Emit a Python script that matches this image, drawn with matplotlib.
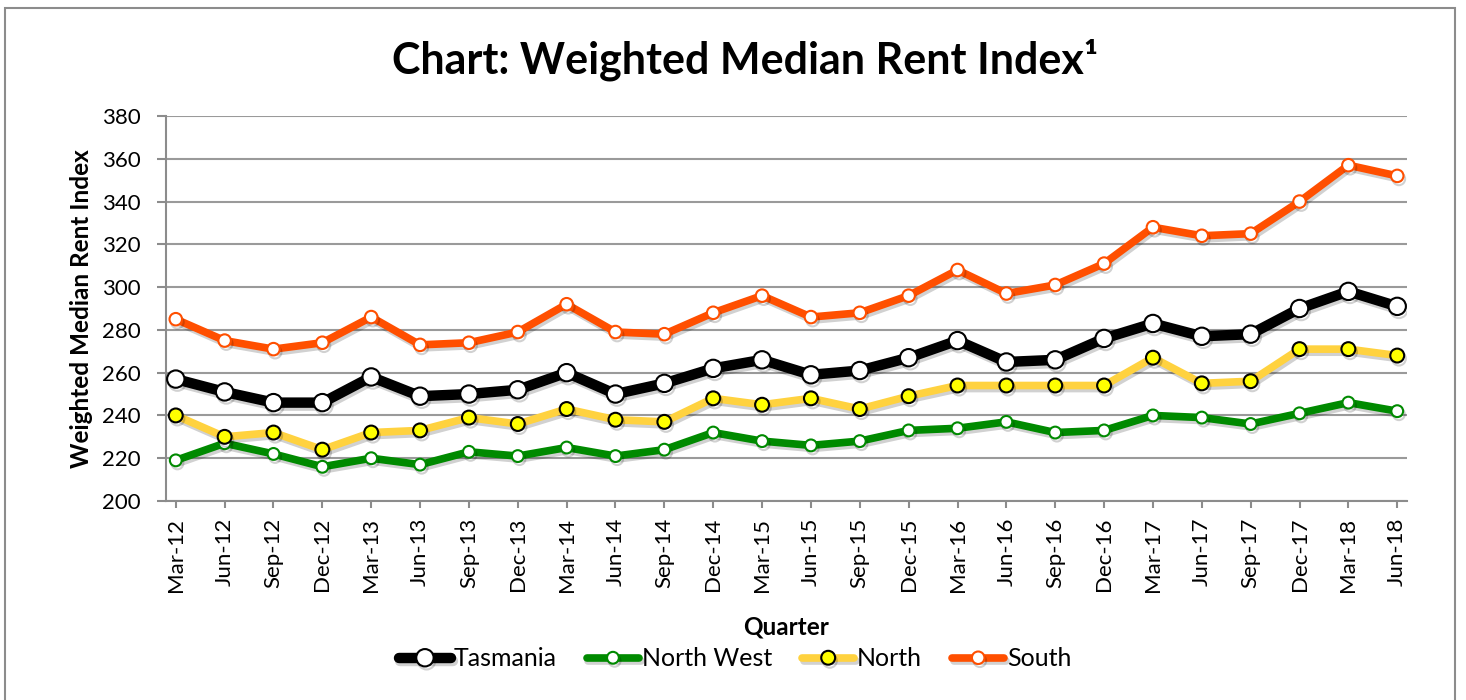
import matplotlib
matplotlib.use('Agg')
import matplotlib.pyplot as plt
import matplotlib.patheffects as pe
from matplotlib.patches import Rectangle

plt.rcParams['font.family'] = ['Lato', 'DejaVu Sans']

# quarters and index values
quarters = ['Mar-12', 'Jun-12', 'Sep-12', 'Dec-12', 'Mar-13', 'Jun-13', 'Sep-13', 'Dec-13',
            'Mar-14', 'Jun-14', 'Sep-14', 'Dec-14', 'Mar-15', 'Jun-15', 'Sep-15', 'Dec-15',
            'Mar-16', 'Jun-16', 'Sep-16', 'Dec-16', 'Mar-17', 'Jun-17', 'Sep-17', 'Dec-17',
            'Mar-18', 'Jun-18']
tasmania = [257, 251, 246, 246, 258, 249, 250, 252, 260, 250, 255, 262, 266, 259, 261, 267,
            275, 265, 266, 276, 283, 277, 278, 290, 298, 291]
north_west = [219, 227, 222, 216, 220, 217, 223, 221, 225, 221, 224, 232, 228, 226, 228, 233,
              234, 237, 232, 233, 240, 239, 236, 241, 246, 242]
north = [240, 230, 232, 224, 232, 233, 239, 236, 243, 238, 237, 248, 245, 248, 243, 249,
         254, 254, 254, 254, 267, 255, 256, 271, 271, 268]
south = [285, 275, 271, 274, 286, 273, 274, 279, 292, 279, 278, 288, 296, 286, 288, 296,
         308, 297, 301, 311, 328, 324, 325, 340, 357, 352]
y_ticks = list(range(200, 381, 20))

fig = plt.figure(figsize=(14.66, 7), dpi=100)
ax = fig.add_axes([166 / 1466, 1 - 501 / 700, (1407 - 166) / 1466, (501 - 116) / 700])

# outer frame of the chart box
fig.patches.append(Rectangle((5 / 1466, -0.05), 1450 / 1466, 1 - 8 / 700 + 0.05,
                             transform=fig.transFigure, fill=False,
                             edgecolor='#8c8c8c', linewidth=1.5))

x = list(range(len(quarters)))
shadow = [pe.SimpleLineShadow(offset=(1.2, -2.2), shadow_color='black', alpha=0.18), pe.Normal()]

series = [
    ('Tasmania', tasmania, 'black', 7.5, 'white', 'black', 12.5),
    ('North West', north_west, '#008a00', 5.5, 'white', '#008a00', 8.5),
    ('North', north, '#ffd23f', 5.5, '#ffff00', 'black', 10),
    ('South', south, '#ff4f00', 5.5, 'white', '#ff4f00', 9),
]
for name, vals, col, lw, mfc, mec, ms in series:
    ax.plot(x, vals, color=col, linewidth=lw, marker='o', markersize=ms,
            markerfacecolor=mfc, markeredgecolor=mec, markeredgewidth=1.5,
            solid_joinstyle='round', solid_capstyle='round', label=name,
            zorder=3, path_effects=shadow)

ax.set_ylim(200, 380)
ax.set_yticks(y_ticks)
ax.set_xlim(-0.2, len(quarters) - 0.8)
ax.set_xticks(x)
ax.set_xticklabels(quarters, rotation=90, fontsize=16)
ax.tick_params(axis='y', labelsize=16, length=6.5, width=1.5, color='#8c8c8c', pad=12)
ax.tick_params(axis='x', length=5, width=1.5, color='#8c8c8c', pad=7)
ax.grid(axis='y', color='#9a9a9a', linewidth=1.5)
ax.set_axisbelow(True)
for s in ['top', 'right']:
    ax.spines[s].set_visible(False)
for s in ['left', 'bottom']:
    ax.spines[s].set_color('#8c8c8c')
    ax.spines[s].set_linewidth(1.5)

ax.set_ylabel('Weighted Median Rent Index', fontsize=17.5, fontweight='bold', labelpad=6)
ax.set_xlabel('Quarter', fontsize=17.5, fontweight='bold', labelpad=17)

fig.text(745 / 1466, 1 - 60 / 700, 'Chart: Weighted Median Rent Index¹', ha='center', va='center',
         fontsize=31, fontweight='bold')

fig.legend(loc='center', bbox_to_anchor=(735 / 1466, 1 - 659 / 700), ncol=4, frameon=False,
           fontsize=18, handlelength=2.1, handletextpad=0.1, columnspacing=1.2)

fig.savefig('out.png', dpi=100)
